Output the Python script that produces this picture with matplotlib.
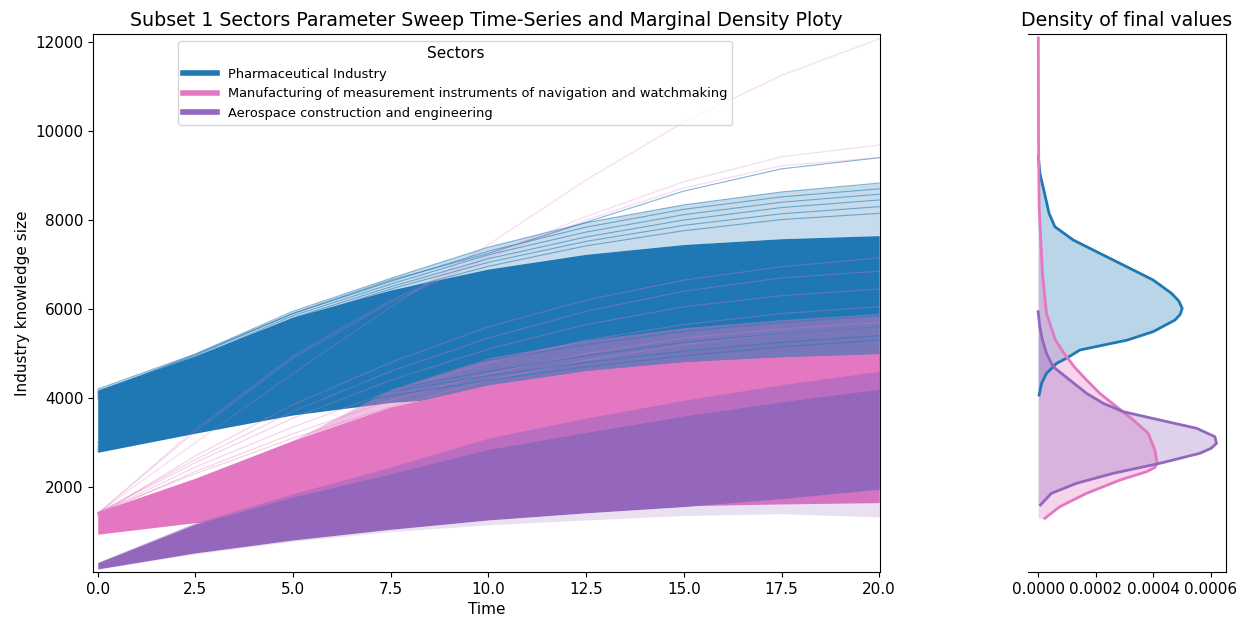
"""
Parameter sweep of industry knowledge size for three sectors, with the
density of the final values drawn in a narrow panel on the right.
"""

import matplotlib

matplotlib.use("Agg")
import matplotlib.pyplot as plt
from matplotlib.lines import Line2D

time = [0, 2.5, 5, 7.5, 10, 12.5, 15, 17.5, 20]

sectors = [
    "Pharmaceutical Industry",
    "Manufacturing of measurement instruments of navigation and watchmaking",
    "Aerospace construction and engineering",
]
colors = ["#1f77b4", "#e377c2", "#9467bd"]

# Pharmaceutical band (dense core + lighter upper fringe)
blue_low = [2780, 3210, 3620, 3900, 4050, 4120, 4150, 4150, 4130]
blue_core_top = [4180, 4950, 5820, 6430, 6900, 7230, 7450, 7580, 7650]
blue_outer_top = [4210, 5000, 5950, 6700, 7400, 7950, 8350, 8640, 8830]
blue_top_lines = [
    [4200, 4990, 5950, 6690, 7390, 7940, 8340, 8630, 8830],
    [4150, 4950, 5900, 6620, 7300, 7840, 8240, 8520, 8700],
    [4100, 4900, 5850, 6560, 7220, 7730, 8120, 8400, 8580],
    [4060, 4860, 5800, 6500, 7130, 7620, 8000, 8280, 8450],
    [4020, 4820, 5750, 6450, 7050, 7520, 7880, 8140, 8300],
    [3980, 4780, 5700, 6380, 6960, 7420, 7760, 8010, 8150],
    [4120, 4980, 5900, 6650, 7250, 7950, 8650, 9150, 9400],
]
blue_streaks = [
    [2800, 3250, 3700, 4050, 4400, 4700, 4950, 5150, 5300],
    [2900, 3350, 3800, 4200, 4600, 4950, 5250, 5450, 5600],
    [2850, 3300, 3750, 4150, 4500, 4800, 5050, 5250, 5400],
    [3000, 3500, 4000, 4450, 4850, 5200, 5500, 5700, 5850],
]

# Manufacturing band
pink_core_low = [940, 1200, 1340, 1430, 1480, 1530, 1580, 1620, 1650]
pink_core_top = [1445, 2200, 3050, 3800, 4300, 4620, 4820, 4930, 5000]
pink_mix_top = [1445, 2200, 3050, 4200, 4900, 5300, 5580, 5760, 5900]
pink_lines = [
    [1420, 2550, 3550, 4400, 5100, 5650, 6050, 6300, 6450],
    [1400, 2450, 3350, 4150, 4800, 5300, 5650, 5900, 6050],
    [1380, 2350, 3200, 3950, 4550, 5000, 5350, 5550, 5700],
    [1360, 2700, 3850, 4800, 5600, 6200, 6650, 6950, 7150],
    [1430, 2300, 3100, 3800, 4400, 4850, 5200, 5450, 5600],
    [1410, 2620, 3700, 4600, 5350, 5950, 6400, 6700, 6850],
]
pink_outliers = [
    [1420, 3000, 4550, 6050, 7450, 8900, 10200, 11250, 12070],
    [1400, 3300, 4950, 6200, 7200, 8080, 8860, 9420, 9685],
    [1400, 3250, 4900, 6150, 7150, 8000, 8720, 9220, 9400],
]

# Aerospace band
purple_fringe_low = [150, 500, 780, 1000, 1150, 1260, 1360, 1400, 1330]
purple_low = [160, 520, 810, 1050, 1260, 1420, 1560, 1740, 1950]
purple_core_top = [300, 1170, 1780, 2300, 2850, 3230, 3600, 3920, 4200]
purple_mix_top = [310, 1200, 1850, 2450, 3100, 3550, 3950, 4300, 4600]

# density of the final values (value, density)
blue_kde_y = [4067, 4330, 4554, 4779, 4892, 5079, 5303, 5491, 5753, 5880,
              6015, 6180, 6352, 6652, 6951, 7251, 7550, 7850, 8150, 8674,
              9050, 9420]
blue_kde_d = [3.5e-6, 1.2e-5, 2.9e-5, 6.4e-5, 9.8e-5, 1.45e-4, 3.1e-4,
              3.99e-4, 4.75e-4, 4.93e-4, 5.0e-4, 4.88e-4, 4.63e-4, 3.99e-4,
              3.07e-4, 2.14e-4, 1.22e-4, 5.8e-5, 3.8e-5, 1.97e-5, 6e-6, 1e-6]

pink_kde_y = [1296, 1558, 1858, 2157, 2344, 2440, 2532, 2831, 3207, 3506,
              3805, 4105, 4404, 4704, 5004, 5303, 5903, 6802, 8300, 9800,
              12090]
pink_kde_d = [2.3e-5, 7.5e-5, 1.68e-4, 2.84e-4, 3.76e-4, 4.05e-4, 4.13e-4,
              4.05e-4, 3.82e-4, 3.3e-4, 2.72e-4, 2.14e-4, 1.68e-4, 1.25e-4,
              9.0e-5, 6.0e-5, 2.9e-5, 1.5e-5, 3.5e-6, 1.5e-6, 8e-7]

purple_kde_y = [1596, 1858, 2083, 2307, 2532, 2757, 2870, 2981, 3131, 3319,
                3506, 3693, 3880, 4105, 4404, 4704, 5004, 5303, 5603, 5940]
purple_kde_d = [8e-6, 4.6e-5, 1.33e-4, 2.6e-4, 4.22e-4, 5.61e-4, 6.0e-4,
                6.19e-4, 6.13e-4, 5.5e-4, 4.22e-4, 2.95e-4, 2.26e-4, 1.68e-4,
                1.1e-4, 5.2e-5, 2.9e-5, 1.5e-5, 5.8e-6, 0.0]

fig = plt.figure(figsize=(12.47, 6.18), dpi=100)
ax = fig.add_axes([0.0746, 0.0744, 0.6311, 0.8706])
ax_kde = fig.add_axes([0.8244, 0.0744, 0.1588, 0.8706], sharey=ax)

# --- time series panel ---
blue, pink, purple = colors

ax.fill_between(time, blue_core_top, blue_outer_top, color=blue, alpha=0.25, lw=0)
ax.fill_between(time, blue_low, blue_core_top, color=blue, lw=0)
for line in blue_top_lines:
    ax.plot(time, line, color=blue, alpha=0.55, lw=0.8)

for line in pink_lines:
    ax.plot(time, line, color=pink, alpha=0.35, lw=0.8)
for line in pink_outliers:
    ax.plot(time, line, color=pink, alpha=0.25, lw=0.9)

ax.fill_between(time, pink_core_top, pink_mix_top, color=pink, alpha=0.45, lw=0)
for line in blue_streaks:
    ax.plot(time, line, color=blue, alpha=0.45, lw=0.9)
ax.fill_between(time, pink_core_low, pink_core_top, color=pink, lw=0)

ax.fill_between(time, purple_fringe_low, purple_low, color=purple, alpha=0.2, lw=0)
ax.fill_between(time, purple_core_top, purple_mix_top, color=purple, alpha=0.5, lw=0)
ax.fill_between(time, purple_low, purple_core_top, color=purple, lw=0)

ax.set_xlim(-0.12, 20.02)
ax.set_ylim(90, 12180)
ax.set_xlabel("Time", fontsize=11)
ax.set_ylabel("Industry knowledge size", fontsize=11)
ax.set_title(
    "Subset 1 Sectors Parameter Sweep Time-Series and Marginal Density Ploty",
    fontsize=13.7,
)
ax.tick_params(labelsize=11)

handles = [Line2D([0], [0], color=c, lw=4) for c in colors]
ax.legend(
    handles,
    sectors,
    title="Sectors",
    title_fontsize=11,
    fontsize=9.4,
    loc="upper left",
    bbox_to_anchor=(0.1, 0.999),
    handlelength=2.6,
)

# --- density panel ---
for ys, ds, c in [
    (blue_kde_y, blue_kde_d, blue),
    (pink_kde_y, pink_kde_d, pink),
    (purple_kde_y, purple_kde_d, purple),
]:
    ax_kde.fill_betweenx(ys, 0, ds, color=c, alpha=0.3, lw=0)
    ax_kde.plot(ds, ys, color=c, lw=2)

ax_kde.set_xlim(-3.5e-5, 6.52e-4)
ax_kde.set_xticks([0, 0.0002, 0.0004, 0.0006])
ax_kde.set_xticklabels(["0.0000", "0.0002", "0.0004", "0.0006"])
ax_kde.tick_params(axis="x", labelsize=11)
ax_kde.tick_params(axis="y", left=False, labelleft=False)
ax_kde.spines["left"].set_visible(False)
ax_kde.set_title("Density of final values", fontsize=13.7)

plt.savefig("out.png")
